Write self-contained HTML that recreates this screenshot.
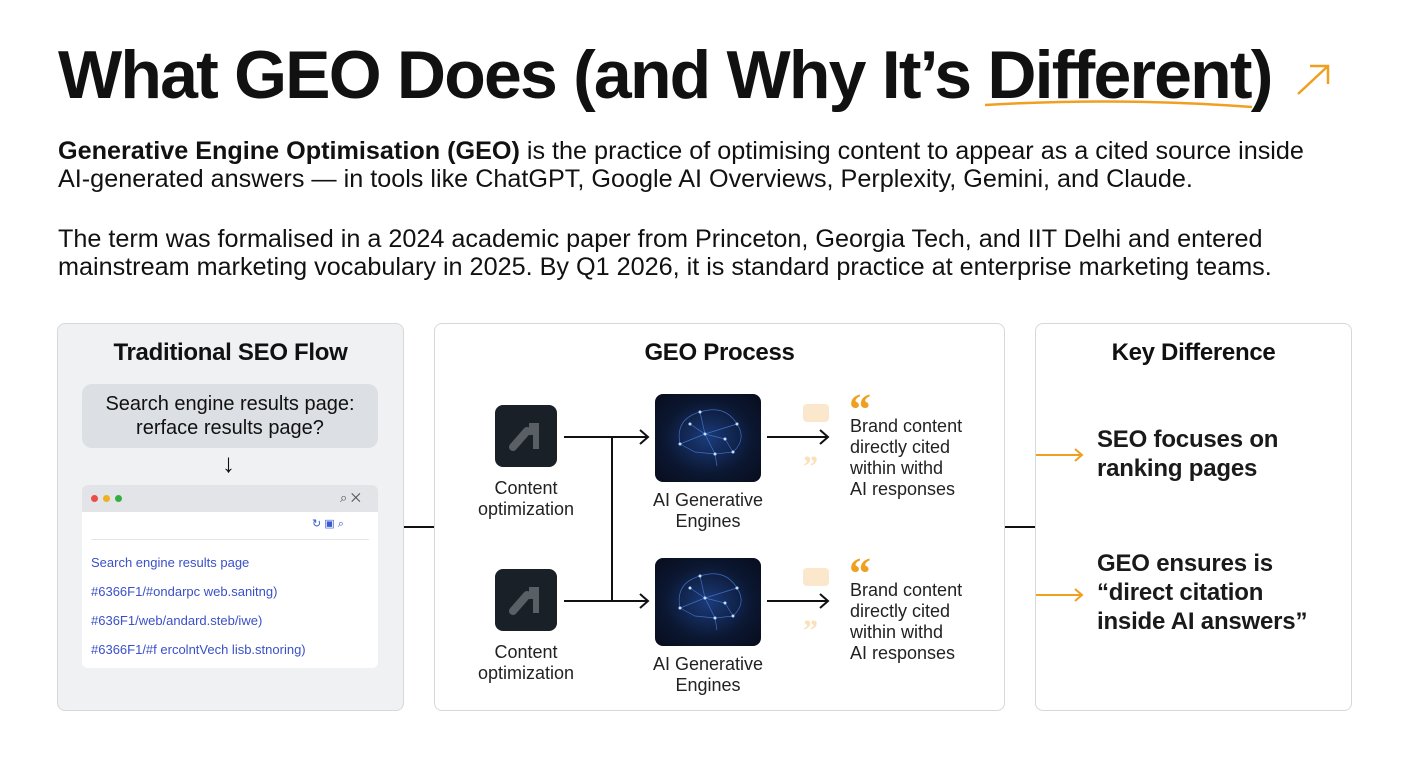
<!DOCTYPE html>
<html><head><meta charset="utf-8"><style>
body{margin:0;width:1408px;height:768px;background:#fff;font-family:"Liberation Sans",sans-serif;color:#111;position:relative;overflow:hidden}
.a{position:absolute}
.box{position:absolute;border:1.5px solid #d5d8dc;border-radius:8px;box-sizing:border-box}
.h{font-weight:bold;font-size:24px;text-align:center;letter-spacing:-0.3px}
.t{font-size:18px;line-height:21px;color:#222}
.icon{position:absolute;width:62px;height:62px;background:#1a2028;border-radius:8px}
.brain{position:absolute;width:106px;height:88px;background:radial-gradient(ellipse at center,#1b3b7a 0%,#0b1630 60%,#070d1c 100%);border-radius:8px;overflow:hidden}
.ln{position:absolute;background:#111}
.q{position:absolute;color:#f0a020;font-size:44px;font-weight:bold;font-family:"Liberation Serif",serif;line-height:30px}
.k{position:absolute;left:1097px;font-size:24px;line-height:29px;font-weight:bold;color:#1a1a1a;letter-spacing:-0.2px}
</style></head><body>
<div class="a" style="left:58px;top:36px;font-size:68px;font-weight:bold;letter-spacing:-1.8px;white-space:nowrap">What GEO Does (and Why It’s Different)</div>
<svg class="a" style="left:980px;top:95px" width="280" height="20"><path d="M5 10 Q140 2 272 12" stroke="#f0a020" stroke-width="2.5" fill="none"/></svg>
<svg class="a" style="left:1294px;top:60px" width="40" height="40"><path d="M4 34 L34 6 M16 6 H34 V24" stroke="#f0a020" stroke-width="2.5" fill="none"/></svg>
<div class="a" style="left:58px;top:137px;font-size:25.2px;line-height:28px;width:1340px;color:#111;white-space:nowrap"><b>Generative Engine Optimisation (GEO)</b> is the practice of optimising content to appear as a cited source inside<br>AI-generated answers — in tools like ChatGPT, Google AI Overviews, Perplexity, Gemini, and Claude.</div>
<div class="a" style="left:58px;top:225px;font-size:25.2px;line-height:28px;width:1340px;color:#111;white-space:nowrap">The term was formalised in a 2024 academic paper from Princeton, Georgia Tech, and IIT Delhi and entered<br>mainstream marketing vocabulary in 2025. By Q1 2026, it is standard practice at enterprise marketing teams.</div>

<div class="box" style="left:57px;top:323px;width:347px;height:388px;background:#eff1f3"></div>
<div class="box" style="left:434px;top:323px;width:571px;height:388px;background:#fff"></div>
<div class="box" style="left:1035px;top:323px;width:317px;height:388px;background:#fff"></div>
<div class="ln" style="left:404px;top:526px;width:30px;height:2px"></div>
<div class="ln" style="left:1005px;top:526px;width:30px;height:2px"></div>

<div class="a h" style="left:57px;top:339px;width:347px">Traditional SEO Flow</div>
<div class="a" style="left:82px;top:384px;width:296px;height:64px;background:#dcdfe3;border-radius:10px;text-align:center;font-size:20px;line-height:24px;padding-top:8px;box-sizing:border-box">Search engine results page:<br>rerface results page?</div>
<div class="a" style="left:222px;top:448px;font-size:26px">↓</div>
<div class="a" style="left:82px;top:485px;width:296px;height:183px;background:#fff;border-radius:6px;overflow:hidden">
<div style="height:27px;background:#e2e4e7;position:relative">
<span class="a" style="left:9px;top:10px;width:7px;height:7px;border-radius:50%;background:#ec4b4b"></span>
<span class="a" style="left:21px;top:10px;width:7px;height:7px;border-radius:50%;background:#f0b020"></span>
<span class="a" style="left:33px;top:10px;width:7px;height:7px;border-radius:50%;background:#30b040"></span>
<span class="a" style="left:258px;top:5px;font-size:13px;color:#555">⌕ ✕</span></div>
<div class="a" style="left:230px;top:32px;font-size:11px;color:#3a5ad0">↻ ▣ ⌕</div>
<div class="a" style="left:9px;top:54px;width:278px;height:1px;background:#e5e5e5"></div>
<div class="a" style="left:9px;top:63px;font-size:13px;line-height:29px;color:#3a50c8">Search engine results page<br>#6366F1/#ondarpc web.sanitng)<br>#636F1/web/andard.steb/iwe)<br>#6366F1/#f ercolntVech lisb.stnoring)</div>
</div>

<div class="a h" style="left:434px;top:339px;width:571px">GEO Process</div>
<div class="ln" style="left:611px;top:437px;width:2px;height:164px"></div>
<svg class="a" style="left:0;top:0" width="1408" height="768">
<g stroke="#111" stroke-width="2" fill="none">
<path d="M564 437 H648 M640 430 L648 437 L640 444"/>
<path d="M767 437 H828 M820 430 L828 437 L820 444"/>
<path d="M564 601 H648 M640 594 L648 601 L640 608"/>
<path d="M767 601 H828 M820 594 L828 601 L820 608"/>
</g>
<g stroke="#f0a020" stroke-width="2" fill="none">
<path d="M1036 455 H1082 M1075 449 L1082 455 L1075 461"/>
<path d="M1036 595 H1082 M1075 589 L1082 595 L1075 601"/>
</g>
</svg>
<div class="icon" style="left:495px;top:405px"><svg width="62" height="62"><path d="M18 42 L32 26" stroke="#5a5f66" stroke-width="8" stroke-linecap="round"/><path d="M34 18 H44 V44 H38 V30 H34Z" fill="#5a5f66"/></svg></div>
<div class="a t" style="left:470px;top:478px;width:112px;text-align:center">Content<br>optimization</div>
<div class="brain" style="left:655px;top:394px"><svg width="106" height="88"><g stroke="#4a7fe0" stroke-width="0.7" fill="none" opacity="0.8"><path d="M25 50 Q20 25 45 18 Q70 10 82 30 Q92 45 78 58 L60 60 L62 72 M25 50 L40 58 L60 60 M45 18 L50 40 L25 50 M50 40 L82 30 M50 40 L60 60 M35 30 L50 40 L70 45 L78 58"/></g><g fill="#bfe0ff"><circle cx="45" cy="18" r="1.5"/><circle cx="50" cy="40" r="1.5"/><circle cx="82" cy="30" r="1.5"/><circle cx="25" cy="50" r="1.5"/><circle cx="60" cy="60" r="1.5"/><circle cx="78" cy="58" r="1.5"/><circle cx="70" cy="45" r="1.5"/><circle cx="35" cy="30" r="1.5"/></g></svg></div>
<div class="a t" style="left:642px;top:490px;width:132px;text-align:center">AI Generative<br>Engines</div>
<div class="a" style="left:803px;top:404px;width:26px;height:18px;background:#fbe8cc;border-radius:4px"></div>
<div class="a" style="left:803px;top:450px;color:#fbe0b8;font-size:30px;font-weight:bold;font-family:'Liberation Serif',serif">”</div>
<div class="q" style="left:849px;top:395px">“</div>
<div class="a t" style="left:850px;top:416px">Brand content<br>directly cited<br>within withd<br>AI responses</div>
<div class="icon" style="left:495px;top:569px"><svg width="62" height="62"><path d="M18 42 L32 26" stroke="#5a5f66" stroke-width="8" stroke-linecap="round"/><path d="M34 18 H44 V44 H38 V30 H34Z" fill="#5a5f66"/></svg></div>
<div class="a t" style="left:470px;top:642px;width:112px;text-align:center">Content<br>optimization</div>
<div class="brain" style="left:655px;top:558px"><svg width="106" height="88"><g stroke="#4a7fe0" stroke-width="0.7" fill="none" opacity="0.8"><path d="M25 50 Q20 25 45 18 Q70 10 82 30 Q92 45 78 58 L60 60 L62 72 M25 50 L40 58 L60 60 M45 18 L50 40 L25 50 M50 40 L82 30 M50 40 L60 60 M35 30 L50 40 L70 45 L78 58"/></g><g fill="#bfe0ff"><circle cx="45" cy="18" r="1.5"/><circle cx="50" cy="40" r="1.5"/><circle cx="82" cy="30" r="1.5"/><circle cx="25" cy="50" r="1.5"/><circle cx="60" cy="60" r="1.5"/><circle cx="78" cy="58" r="1.5"/><circle cx="70" cy="45" r="1.5"/><circle cx="35" cy="30" r="1.5"/></g></svg></div>
<div class="a t" style="left:642px;top:654px;width:132px;text-align:center">AI Generative<br>Engines</div>
<div class="a" style="left:803px;top:568px;width:26px;height:18px;background:#fbe8cc;border-radius:4px"></div>
<div class="a" style="left:803px;top:614px;color:#fbe0b8;font-size:30px;font-weight:bold;font-family:'Liberation Serif',serif">”</div>
<div class="q" style="left:849px;top:559px">“</div>
<div class="a t" style="left:850px;top:580px">Brand content<br>directly cited<br>within withd<br>AI responses</div>

<div class="a h" style="left:1035px;top:339px;width:317px">Key Difference</div>
<div class="k" style="top:425px">SEO focuses on<br>ranking pages</div>
<div class="k" style="top:549px">GEO ensures is<br>“direct citation<br>inside AI answers”</div>
</body></html>
